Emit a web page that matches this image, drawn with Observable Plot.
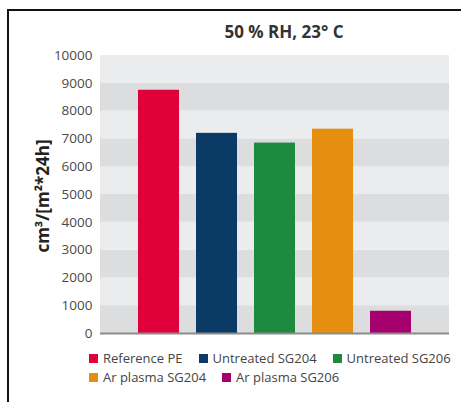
<!DOCTYPE html>
<html>
<head>
<meta charset="utf-8">
<script src="https://cdn.jsdelivr.net/npm/d3@7"></script>
<script src="https://cdn.jsdelivr.net/npm/@observablehq/plot@0.6"></script>
<style>
  html, body { margin: 0; padding: 0; background: #fff; overflow: hidden; width: 461px; height: 402px; }
  #wrap { position: relative; width: 461px; height: 402px; font-family: "Open Sans", "DejaVu Sans", sans-serif; }
  #frame { position: absolute; left: 7px; top: 9px; width: 520px; height: 520px; border: 2.5px solid #111; box-sizing: border-box; }
  #title { position: absolute; left: 100px; width: 368px; top: 20px; text-align: center; font-weight: 700; font-size: 17px; line-height: 24px; color: #333; }
  #ylabel { position: absolute; left: 42px; top: 196px; transform: translate(-50%, -50%) rotate(-90deg); white-space: nowrap; font-weight: 700; font-size: 17px; color: #222; }
  #chart { position: absolute; left: 0; top: 0; }
  #chart g[aria-label="y-axis tick label"] text { fill: #4a4a4a; }
  #legend { position: absolute; left: 89px; top: 350px; width: 380px; display: flex; flex-wrap: wrap; column-gap: 16px; row-gap: 3px; font-size: 13px; color: #444; }
  .item { display: flex; align-items: center; white-space: nowrap; line-height: 16px; }
  .sw { width: 9px; height: 9px; margin-right: 5px; display: inline-block; }
</style>
</head>
<body>
<div id="wrap">
  <div id="frame"></div>
  <div id="chart"></div>
  <div id="title"></div>
  <div id="ylabel"></div>
  <div id="legend"></div>
</div>
<script>
const title = "50 % RH, 23° C";
const yLabel = "cm³/[m²*24h]";
const categories = ["Reference PE", "Untreated SG204", "Untreated SG206", "Ar plasma SG204", "Ar plasma SG206"];
const values = [8750, 7200, 6850, 7350, 800];
const colors = ["#e0003a", "#0b3a66", "#1e8a40", "#e68e0f", "#a6006e"];
const yTicks = [0, 1000, 2000, 3000, 4000, 5000, 6000, 7000, 8000, 9000, 10000];

const data = categories.map((c, i) => ({category: c, value: values[i]}));
const bands = yTicks.slice(0, -1).map((t, i) => ({lo: t, hi: yTicks[i + 1], dark: (yTicks.length - 2 - i) % 2 === 1}));

document.getElementById("title").textContent = title;
document.getElementById("ylabel").textContent = yLabel;

const plot = Plot.plot({
  width: 461,
  height: 345,
  marginLeft: 100,
  marginRight: 12,
  marginTop: 55,
  marginBottom: 12,
  style: {fontFamily: "'Open Sans', 'DejaVu Sans', sans-serif", fontSize: "13.5px", color: "#8c8c8c", background: "transparent"},
  x: {domain: categories, paddingInner: 0.3, paddingOuter: 0.62, axis: null},
  y: {domain: [0, 10000], ticks: yTicks, tickFormat: d => String(d), tickSize: 0, tickPadding: 8, line: true, label: null},
  color: {domain: categories, range: colors},
  marks: [
    Plot.rect(bands, {y1: "lo", y2: "hi", fill: d => d.dark ? "#dcdddf" : "#ebecee"}),
    Plot.barY(data, {x: "category", y: "value", fill: "category"}),
    Plot.ruleY([0], {stroke: "#8c8c8c", strokeWidth: 2})
  ]
});
document.getElementById("chart").appendChild(plot);

const legend = document.getElementById("legend");
categories.forEach((c, i) => {
  const item = document.createElement("div");
  item.className = "item";
  const sw = document.createElement("span");
  sw.className = "sw";
  sw.style.background = colors[i];
  const t = document.createElement("span");
  t.textContent = c;
  item.appendChild(sw);
  item.appendChild(t);
  legend.appendChild(item);
});
</script>
</body>
</html>
